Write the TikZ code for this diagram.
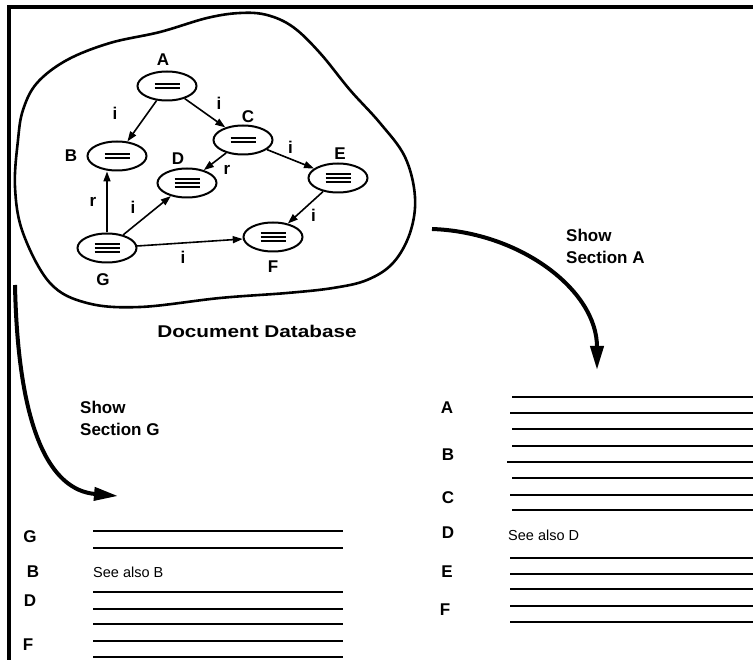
\documentclass[tikz,border=0pt]{standalone}
\usepackage{fontspec}
\setmainfont{Liberation Sans}
\usepackage{graphicx}
\usetikzlibrary{shapes.geometric,arrows.meta}
\tikzstyle{doc} = [draw, ellipse, line width=2pt, minimum width=59pt, minimum height=29pt, inner sep=0pt]
\tikzstyle{doclabel} = [font=\bfseries\fontsize{17}{18}\selectfont, inner sep=0pt]
\tikzstyle{link} = [-{Triangle[length=10pt,width=7pt]}, line width=1.6pt]
\tikzstyle{linktext} = [font=\bfseries\fontsize{17}{18}\selectfont, inner sep=0pt]
\tikzstyle{jump} = [-{Triangle[length=24pt,width=13pt]}, line width=4pt]
\tikzstyle{showtext} = [font=\bfseries\fontsize{17}{22}\selectfont, align=left, inner sep=0pt, anchor=north west]
\tikzstyle{textline} = [line width=2pt]
\tikzstyle{seetext} = [font=\fontsize{14.5}{16}\selectfont, inner sep=0pt, anchor=west]
\newcommand{\twobars}{\vbox{\hrule width 25pt height 1.7pt \vskip 2.6pt \hrule width 25pt height 1.7pt}}
\newcommand{\threebars}{\vbox{\hrule width 25pt height 1.6pt \vskip 2.4pt \hrule width 25pt height 1.6pt \vskip 2.4pt \hrule width 25pt height 1.6pt}}

\begin{document}
\begin{tikzpicture}[x=1pt, y=-1pt]
		\useasboundingbox (0,0) rectangle (753,660);
		% frame, top and left side only
		\draw [line width=4pt] (8.5,660) -- (8.5,7.5) -- (753,7.5);

		% the database blob
		\draw [line width=2.6pt] plot [smooth cycle, tension=0.6] coordinates {(23,110) (37,83) (67,60) (110,43) (160,32) (207,18) (240,13) (267,15) (293,27) (320,53) (350,90) (380,123) (405,157) (415,197) (410,233) (393,263) (367,280) (333,288) (287,293) (220,298) (140,307) (87,303) (50,283) (23,233) (15,187) (18,140)};

		\node [doc] (A) at (167,86) {\twobars};
		\node [doc] (B) at (117,156) {\twobars};
		\node [doc] (C) at (243,140) {\twobars};
		\node [doc] (D) at (187,183) {\threebars};
		\node [doc] (E) at (338,178) {\threebars};
		\node [doc] (F) at (273,237) {\threebars};
		\node [doc] (G) at (107,248) {\threebars};

		\node [doclabel, above of = A, node distance=26pt, xshift=-4pt] (la) {A};
		\node [doclabel, left of = B, node distance=46pt] (lb) {B};
		\node [doclabel, above of = C, node distance=23pt, xshift=5pt] (lc) {C};
		\node [doclabel, above of = D, node distance=24pt, xshift=-9pt] (ld) {D};
		\node [doclabel, above of = E, node distance=24pt, xshift=2pt] (le) {E};
		\node [doclabel, below of = F, node distance=30pt] (lf) {F};
		\node [doclabel, below of = G, node distance=32pt, xshift=-4pt] (lg) {G};

		\draw [link] (A) -- node[linktext, xshift=-27pt, yshift=8pt] (iab) {i} (B);
		\draw [link] (A) -- node[linktext, xshift=14pt, yshift=10pt] (iac) {i} (C);
		\draw [link] (C) -- node[linktext, xshift=12pt, yshift=-8pt] (rcd) {r} (D);
		\draw [link] (C) -- node[linktext, yshift=12pt] (ice) {i} (E);
		\draw [link] (E) -- node[linktext, xshift=8pt, yshift=-8pt] (ief) {i} (F);
		\draw [link] (G) -- node[linktext, xshift=-14pt] (rgb) {r} (G |- B.south);
		\draw [link] (G) -- node[linktext, xshift=-14pt, yshift=8pt] (igd) {i} (D);
		\draw [link] (G) -- node[linktext, xshift=-7pt, yshift=-15pt] (igf) {i} (F);

		\node [font=\bfseries\fontsize{17}{20}\selectfont, inner sep=0pt] (db) at (257,331) {\scalebox{1.22}[1]{Document Database}};

		% the two requests
		\coordinate (afrom) at (432,229);
		\coordinate (ato) at (597,370);
		\draw [jump] (afrom) .. controls (520,232) and (597,290) .. (ato);
		\node [showtext] (showa) at (566,229) {Show\\Section A};

		\coordinate (gfrom) at (15,285);
		\coordinate (gto) at (118,496);
		\draw [jump] (gfrom) .. controls (18,430) and (50,490) .. (gto);
		\node [showtext] (showg) at (80,401) {Show\\Section G};

		% section G view
		\node [doclabel] (vg) at (30,537) {G};
		\node [doclabel] (vb) at (33,572) {B};
		\node [doclabel] (vd) at (30,601) {D};
		\node [doclabel] (vf) at (28,645) {F};
		\node [seetext] (seeb) at (93,572) {See also B};
		\draw [textline] (93,531) -- (343,531) (93,548) -- (343,548)
			(93,592) -- (343,592) (93,609) -- (343,609) (93,624) -- (343,624)
			(93,641) -- (343,641) (93,657) -- (343,657);

		% section A view
		\node [doclabel] (wa) at (447,408) {A};
		\node [doclabel] (wb) at (448,455) {B};
		\node [doclabel] (wc) at (448,498) {C};
		\node [doclabel] (wd) at (448,533) {D};
		\node [doclabel] (we) at (447,572) {E};
		\node [doclabel] (wf) at (445,610) {F};
		\node [seetext] (seed) at (508,535) {See also D};
		\draw [textline] (512,397) -- (753,397) (510,413) -- (753,413)
			(512,429) -- (753,429) (512,446) -- (753,446) (507,462) -- (753,462)
			(512,478) -- (753,478) (510,495) -- (753,495) (512,510) -- (753,510)
			(510,558) -- (753,558) (510,574) -- (753,574) (510,589) -- (753,589)
			(510,606) -- (753,606) (510,622) -- (753,622);
\end{tikzpicture}
\end{document}
